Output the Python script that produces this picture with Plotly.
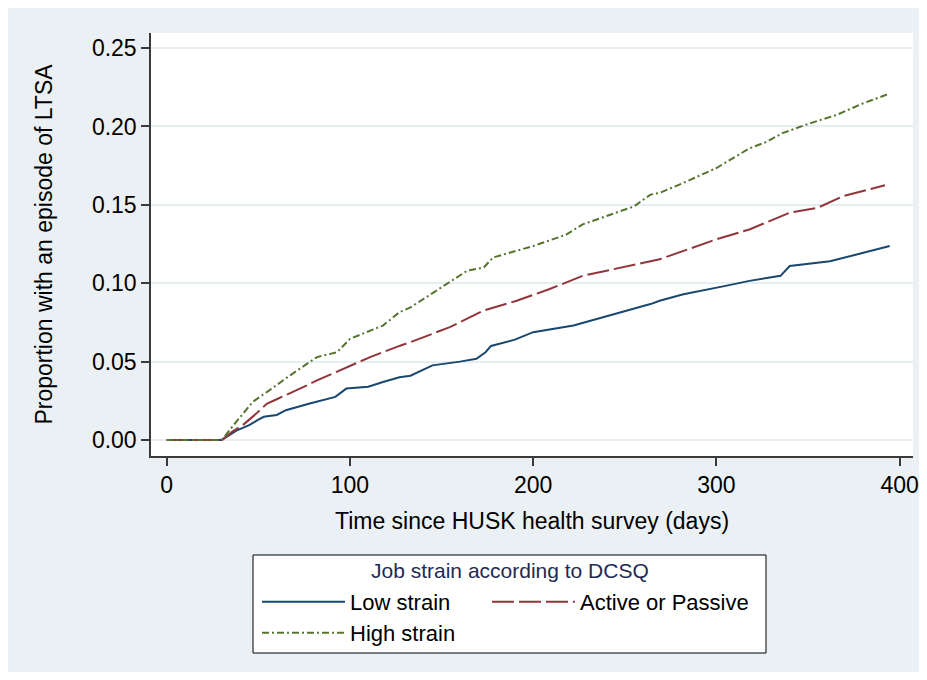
import plotly.graph_objects as go

# ---- data ----
low_x = [0, 30, 38, 45, 50, 53, 60, 65, 78, 92, 98, 110, 118, 127, 133, 145, 160, 169, 174, 177,
         190, 200, 222, 242, 255, 264, 269, 282, 305, 318, 335, 340, 362, 380, 394.6]
low_y = [0, 0, 0.006, 0.0095, 0.013, 0.0148, 0.016, 0.019, 0.0233, 0.0275, 0.0328, 0.034, 0.037,
         0.040, 0.041, 0.0476, 0.050, 0.0518, 0.056, 0.060, 0.064, 0.0688, 0.073, 0.0793, 0.0836,
         0.0867, 0.0888, 0.093, 0.0983, 0.1015, 0.1047, 0.111, 0.114, 0.1195, 0.1237]

act_x = [0, 30, 36, 42, 49, 54.5, 60, 67, 75, 82, 92.7, 100, 111, 127, 133, 154.5, 172.7, 191,
         209, 227, 251, 264, 269, 282, 300, 318, 340, 355, 369, 392]
act_y = [0, 0, 0.0055, 0.010, 0.017, 0.023, 0.026, 0.0296, 0.034, 0.038, 0.0434, 0.0476, 0.0529,
         0.060, 0.0624, 0.072, 0.0825, 0.0888, 0.0963, 0.1047, 0.111, 0.114, 0.1153, 0.1206,
         0.128, 0.1343, 0.145, 0.148, 0.1555, 0.1625]

high_x = [0, 30, 38, 47, 56, 67, 82, 93, 100, 118, 127, 133, 145.5, 164, 173, 178, 200, 218, 227,
          255, 264, 269, 282, 300, 318, 327, 336, 351, 365.5, 380, 394.6]
high_y = [0, 0, 0.0117, 0.0244, 0.0317, 0.041, 0.0529, 0.056, 0.0645, 0.073, 0.0815, 0.0846,
          0.094, 0.108, 0.110, 0.1164, 0.1237, 0.131, 0.1375, 0.149, 0.1565, 0.1576, 0.164,
          0.1735, 0.186, 0.190, 0.1957, 0.202, 0.2073, 0.2147, 0.221]

x_ticks = [0, 100, 200, 300, 400]
y_ticks = [0.00, 0.05, 0.10, 0.15, 0.20, 0.25]

names = ["Low strain", "Active or Passive", "High strain"]
legend_title = "Job strain according to DCSQ"
x_title = "Time since HUSK health survey (days)"
y_title = "Proportion with an episode of LTSA"

FONT = "Liberation Sans, Arial, sans-serif"
BG = "#eaf0f3"
AX = "#3a3a3a"

# figure geometry (px); the page body adds an 8px offset
OFF = 8
W, H = 911, 664
L, R, T, B = 143, 6, 25, 216
PW, PH = W - L - R, H - T - B


def px_to_paper_x(page_px):
    return (page_px - OFF - L) / PW


def px_to_paper_y(page_py):
    return (H - B - (page_py - OFF)) / PH


fig = go.Figure()
fig.add_trace(go.Scatter(x=low_x, y=low_y, mode="lines", name=names[0],
                         line=dict(color="#1a476f", width=2), legend="legend",
                         legendwidth=132))
fig.add_trace(go.Scatter(x=act_x, y=act_y, mode="lines", name=names[1],
                         line=dict(color="#90353b", width=2, dash="22px,5px"), legend="legend",
                         legendwidth=200))
fig.add_trace(go.Scatter(x=high_x, y=high_y, mode="lines", name=names[2],
                         line=dict(color="#55752f", width=2, dash="7px,3px,2px,3px"),
                         legend="legend2"))

leg_common = dict(orientation="h", xanchor="left", yanchor="middle",
                  bgcolor="rgba(0,0,0,0)", borderwidth=0, itemwidth=83,
                  font=dict(family=FONT, size=22, color="#000000"),
                  itemclick=False, itemdoubleclick=False)

fig.update_layout(
    width=W, height=H,
    margin=dict(l=L, r=R, t=T, b=B, pad=0),
    paper_bgcolor=BG, plot_bgcolor="#ffffff",
    font=dict(family=FONT, size=23, color="#000000"),
    showlegend=True,
    legend=dict(x=px_to_paper_x(257), y=px_to_paper_y(602), **leg_common),
    legend2=dict(x=px_to_paper_x(257), y=px_to_paper_y(633), **leg_common),
    xaxis=dict(
        range=[-8.6, 407.3], tickmode="array", tickvals=x_ticks,
        ticktext=[str(v) for v in x_ticks],
        showgrid=False, zeroline=False, showline=True, linecolor=AX, linewidth=1.5,
        ticks="outside", ticklen=8, tickwidth=1.5, tickcolor=AX,
        tickfont=dict(family=FONT, size=23, color="#000000"),
        title=dict(text=x_title, standoff=16, font=dict(family=FONT, size=23, color="#000000")),
        automargin=False,
    ),
    yaxis=dict(
        range=[-0.0102, 0.2596], tickmode="array", tickvals=y_ticks,
        ticktext=["%.2f" % v for v in y_ticks],
        showgrid=True, gridcolor="#e6eef1", gridwidth=2,
        zeroline=False, showline=True, linecolor=AX, linewidth=1.5,
        ticks="outside", ticklen=8, tickwidth=1.5, tickcolor=AX,
        tickfont=dict(family=FONT, size=23, color="#000000"),
        title=dict(text=y_title, standoff=33, font=dict(family=FONT, size=23, color="#000000")),
        automargin=False,
    ),
    shapes=[
        # legend box
        dict(type="rect", xref="paper", yref="paper",
             x0=px_to_paper_x(253), x1=px_to_paper_x(766),
             y0=px_to_paper_y(653), y1=px_to_paper_y(555),
             fillcolor="#ffffff", line=dict(color="#000000", width=1), layer="above"),
    ],
    annotations=[
        dict(text=legend_title, xref="paper", yref="paper",
             x=px_to_paper_x(509.5), y=px_to_paper_y(570), xanchor="center", yanchor="middle",
             showarrow=False, font=dict(family=FONT, size=21, color="#1e2a56")),
    ],
)

fig.write_html("out.html")
